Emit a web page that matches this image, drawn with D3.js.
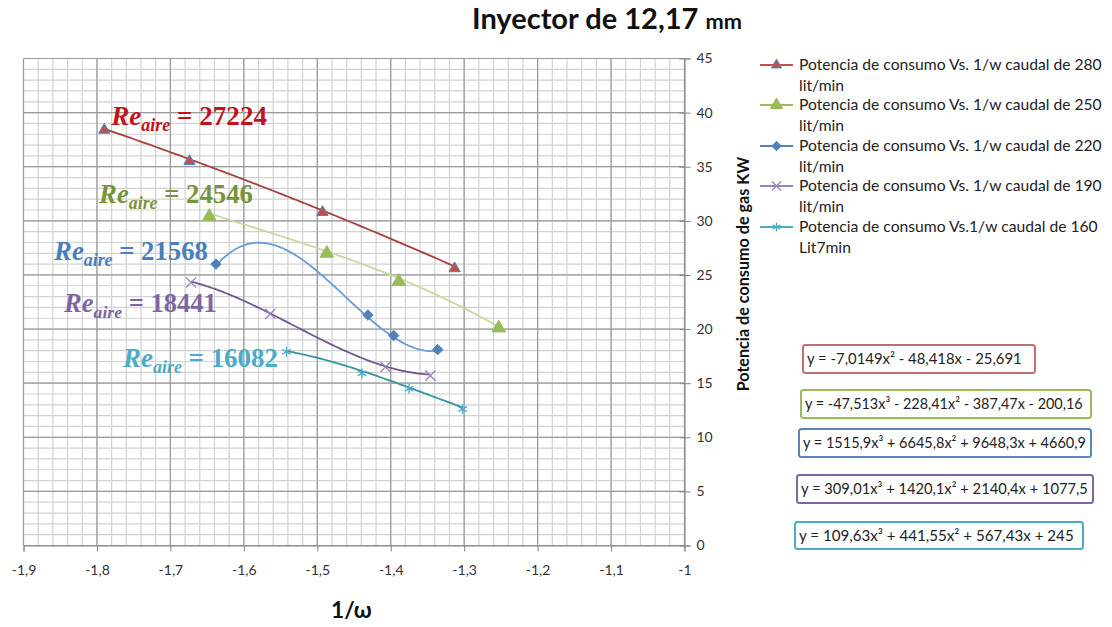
<!DOCTYPE html>
<html><head><meta charset="utf-8">
<script src="https://cdn.jsdelivr.net/npm/d3@7"></script>
<style>body{margin:0;background:#fff}svg{display:block}</style>
</head><body>
<svg id="c" width="1112" height="627"></svg>
<script>
// ---------- DATA ----------
const seriesNames = [
  ["Potencia de consumo Vs. 1/w caudal de 280", "lit/min"],
  ["Potencia de consumo Vs. 1/w caudal de 250", "lit/min"],
  ["Potencia de consumo Vs. 1/w caudal de 220", "lit/min"],
  ["Potencia de consumo Vs. 1/w caudal de 190", "lit/min"],
  ["Potencia de consumo Vs.1/w caudal de 160", "Lit7min"]
];
const x280 = [-1.790, -1.674, -1.493, -1.313];
const y280 = [38.4, 35.5, 30.8, 25.6];
const x250 = [-1.647, -1.487, -1.389, -1.253];
const y250 = [30.4, 27.0, 24.4, 20.1];
const x220 = [-1.638, -1.431, -1.396, -1.336];
const y220 = [26.0, 21.3, 19.4, 18.1];
const x190 = [-1.672, -1.564, -1.407, -1.346];
const y190 = [24.3, 21.4, 16.5, 15.7];
const x160 = [-1.542, -1.439, -1.375, -1.302];
const y160 = [17.9, 15.9, 14.5, 12.6];
// trendline coefficients (x^3, x^2, x, const) as printed on the chart
const coef280 = [0, -7.0149, -48.418, -25.691];
const coef250 = [-47.513, -228.41, -387.47, -200.16];
const coef220 = [1515.9, 6645.8, 9648.3, 4660.9];
const coef190 = [309.01, 1420.1, 2140.4, 1077.5];
const coef160 = [109.63, 441.55, 567.43, 245];
const equations = [
  "y = -7,0149x² - 48,418x - 25,691",
  "y = -47,513x³ - 228,41x² - 387,47x - 200,16",
  "y = 1515,9x³ + 6645,8x² + 9648,3x + 4660,9",
  "y = 309,01x³ + 1420,1x² + 2140,4x + 1077,5",
  "y = 109,63x³ + 441,55x² + 567,43x + 245"
];
const reynolds = ["27224", "24546", "21568", "18441", "16082"];
const xTicks = [-1.9, -1.8, -1.7, -1.6, -1.5, -1.4, -1.3, -1.2, -1.1, -1.0];
const xTickLabels = ["-1,9", "-1,8", "-1,7", "-1,6", "-1,5", "-1,4", "-1,3", "-1,2", "-1,1", "-1"];
const yTicks = [0, 5, 10, 15, 20, 25, 30, 35, 40, 45];
const titleText = "Inyector de 12,17";
const titleUnit = "mm";
const xTitle = "1/ω";
const yTitle = "Potencia de consumo de gas KW";

// ---------- STYLE ----------
const S = [
  {xs:x280, ys:y280, coef:coef280, line:"#A8413F", mfill:"#C0504D", mstroke:"#4F81BD", sym:d3.symbolTriangle, msize:55, txt:"#C0141C", box:"#C0706E"},
  {xs:x250, ys:y250, coef:coef250, line:"#C6DA9E", mfill:"#9BBB59", mstroke:"#9BBB59", sym:d3.symbolTriangle, msize:80, txt:"#77933C", box:"#9BBB59"},
  {xs:x220, ys:y220, coef:coef220, line:"#6A9EDA", mfill:"#4F81BD", mstroke:"#4F81BD", sym:d3.symbolDiamond2, msize:70, txt:"#4A7EBB", box:"#5B84BD"},
  {xs:x190, ys:y190, coef:coef190, line:"#71588F", mfill:"none", mstroke:"#9A82BA", sym:d3.symbolX, msize:70, txt:"#8064A2", box:"#8064A2"},
  {xs:x160, ys:y160, coef:coef160, line:"#31979F", mfill:"none", mstroke:"#4BACC6", sym:d3.symbolAsterisk, msize:70, txt:"#4BACC6", box:"#4BACC6"}
];
const annPos = [[110,125,157],[98,203,155],[53,260,155],[63,312,154],[122,367,156]];
const boxes = [[803,345,232,28],[801,390,290,28],[799,429,292,28],[797,475,296,28],[795,522,288,27]];
const eqWidths = [215, 278, 283, 287, 275];

const svg = d3.select("#c");
const x = d3.scaleLinear().domain([-1.9, -1.0]).range([23.5, 684.5]);
const y = d3.scaleLinear().domain([0, 45]).range([545.5, 58.5]);
const FONT = "Lato, 'Open Sans', sans-serif";

// grid
const g = svg.append("g");
const minorX = d3.range(0, 46).map(i => -1.9 + i*0.02);
const minorY = d3.range(0, 46);
g.selectAll(".mx").data(minorX).join("line")
  .attr("x1", d => x(d)).attr("x2", d => x(d)).attr("y1", y(0)).attr("y2", y(45))
  .attr("stroke", "#d2d2d2").attr("stroke-width", 1.2);
g.selectAll(".my").data(minorY).join("line")
  .attr("y1", d => y(d)).attr("y2", d => y(d)).attr("x1", x(-1.9)).attr("x2", x(-1))
  .attr("stroke", "#d2d2d2").attr("stroke-width", 1.2);
g.selectAll(".Mx").data(xTicks).join("line")
  .attr("x1", d => x(d)).attr("x2", d => x(d)).attr("y1", y(0)).attr("y2", y(45))
  .attr("stroke", "#9a9a9a").attr("stroke-width", 1.2);
g.selectAll(".My").data(yTicks).join("line")
  .attr("y1", d => y(d)).attr("y2", d => y(d)).attr("x1", x(-1.9)).attr("x2", x(-1))
  .attr("stroke", "#9a9a9a").attr("stroke-width", 1.2);

// axes
const xa = svg.append("g").attr("transform", `translate(0,${y(0)})`)
  .call(d3.axisBottom(x).tickValues(xTicks).tickSize(6).tickPadding(14)
    .tickFormat((d, i) => xTickLabels[i]));
const ya = svg.append("g").attr("transform", `translate(${x(-1)},0)`)
  .call(d3.axisRight(y).tickValues(yTicks).tickSize(6).tickPadding(6));
[xa, ya].forEach(a => {
  a.select(".domain").attr("stroke", "#868686");
  a.selectAll(".tick line").attr("stroke", "#868686");
  a.selectAll("text").attr("font-family", FONT).attr("font-size", 14).attr("fill", "#333");
});
ya.selectAll(".tick line").attr("x1", -5);

// trendlines + markers
const line = d3.line().x(d => x(d[0])).y(d => y(d[1]));
S.forEach(s => {
  const x0 = d3.min(s.xs), x1 = d3.max(s.xs);
  const c = s.coef;
  const pts = d3.range(0, 121).map(i => {
    const t = x0 + (x1 - x0) * i / 120;
    return [t, ((c[0]*t + c[1])*t + c[2])*t + c[3]];
  });
  svg.append("path").attr("d", line(pts)).attr("fill", "none")
    .attr("stroke", s.line).attr("stroke-width", 1.8);
});
S.forEach(s => {
  const sym = d3.symbol().type(s.sym).size(s.msize);
  svg.append("g").selectAll("path").data(s.xs.map((v, i) => [v, s.ys[i]])).join("path")
    .attr("transform", d => `translate(${x(d[0])},${y(d[1])})`)
    .attr("d", sym())
    .attr("fill", s.mfill).attr("stroke", s.mstroke).attr("stroke-width", s.mfill === "none" ? 1.3 : 1);
});

// annotations Re_aire = N
function scaledText(px, py, target, build) {
  const outer = svg.append("g").attr("transform", `translate(${px},${py})`);
  const inner = outer.append("g");
  const t = inner.append("text").attr("x", 0).attr("y", 0);
  build(t);
  const bb = t.node().getBBox();
  const k = target / bb.width;
  inner.attr("transform", `scale(${k}) translate(${-bb.x},0)`);
  return t;
}
S.forEach((s, i) => {
  const [px, py, w] = annPos[i];
  scaledText(px, py, w, t => {
    t.attr("font-family", "'Liberation Serif', 'DejaVu Serif', serif").attr("font-weight", "bold").attr("fill", s.txt);
    t.append("tspan").attr("font-style", "italic").attr("font-size", 24).text("Re");
    t.append("tspan").attr("font-style", "italic").attr("font-size", 16).attr("dy", 5).text("aire");
    t.append("tspan").attr("font-size", 24).attr("dy", -5).text(" = " + reynolds[i]);
  });
});

// title
scaledText(472, 29, 270, t => {
  t.attr("font-family", FONT).attr("font-weight", "bold").attr("fill", "#111");
  t.append("tspan").attr("font-size", 24).text(titleText + " ");
  t.append("tspan").attr("font-size", 18).text(titleUnit);
});
// axis titles
scaledText(331, 618, 41, t => {
  t.attr("font-family", FONT).attr("font-weight", "bold").attr("font-size", 20).attr("fill", "#111").text(xTitle);
});
const yt = svg.append("text").attr("transform", `translate(749,274) rotate(-90)`)
  .attr("text-anchor", "middle").attr("font-family", FONT).attr("font-weight", "bold")
  .attr("font-size", 13).attr("fill", "#111").text(yTitle);
{
  const w = yt.node().getComputedTextLength();
  yt.attr("font-size", 13 * 235 / w);
}

// legend
const leg = svg.append("g");
const legY = [65, 105, 146, 186, 227];
let legFs = 13;
S.forEach((s, i) => {
  const ly = legY[i];
  leg.append("line").attr("x1", 760).attr("x2", 793).attr("y1", ly).attr("y2", ly)
    .attr("stroke", i === 0 ? "#C0504D" : (s.mfill === "none" ? s.mstroke : s.mfill)).attr("stroke-width", 2);
  leg.append("path").attr("transform", `translate(776.5,${ly})`)
    .attr("d", d3.symbol().type(s.sym).size(s.msize * 0.8)())
    .attr("fill", s.mfill).attr("stroke", s.mstroke).attr("stroke-width", s.mfill === "none" ? 1.3 : 1);
  const t1 = leg.append("text").attr("x", 799).attr("y", ly).attr("dy", "0.35em")
    .attr("font-family", FONT).attr("font-size", legFs).attr("fill", "#222").text(seriesNames[i][0]);
  if (i === 0) {
    const w = t1.node().getComputedTextLength();
    legFs = legFs * 303 / w;
    t1.attr("font-size", legFs);
  }
  leg.append("text").attr("x", 799).attr("y", ly + 20.5).attr("dy", "0.35em")
    .attr("font-family", FONT).attr("font-size", legFs).attr("fill", "#222").text(seriesNames[i][1]);
});

// equation boxes
S.forEach((s, i) => {
  const [bx, by, bw, bh] = boxes[i];
  svg.append("rect").attr("x", bx).attr("y", by).attr("width", bw).attr("height", bh)
    .attr("rx", 2.5).attr("fill", "#fff").attr("stroke", s.box).attr("stroke-width", 2);
  const t = svg.append("text").attr("x", bx + 4).attr("y", by + bh/2).attr("dy", "0.35em")
    .attr("font-family", FONT).attr("font-size", 14).attr("fill", "#222").text(equations[i]);
  const w = t.node().getComputedTextLength();
  t.attr("font-size", 14 * eqWidths[i] / w);
});
</script>
</body></html>
